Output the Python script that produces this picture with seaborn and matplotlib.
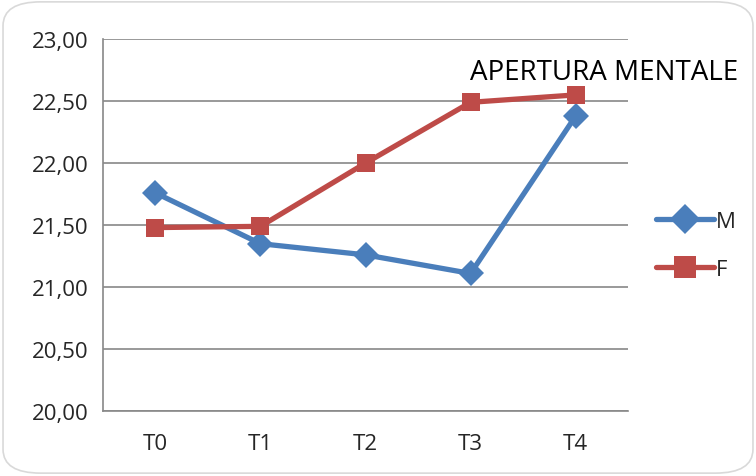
import pandas as pd
import matplotlib.pyplot as plt
import seaborn as sns
from matplotlib.patches import FancyBboxPatch

# dati
tempi = ["T0", "T1", "T2", "T3", "T4"]
valori_m = [21.76, 21.35, 21.26, 21.11, 22.38]
valori_f = [21.48, 21.49, 22.00, 22.49, 22.55]

df = pd.DataFrame({
    "tempo": tempi * 2,
    "pos": list(range(len(tempi))) * 2,
    "valore": valori_m + valori_f,
    "sesso": ["M"] * len(tempi) + ["F"] * len(tempi),
})

sns.set_style("white")
plt.rcParams["font.family"] = ["Open Sans", "DejaVu Sans"]

fig = plt.figure(figsize=(7.56, 4.77), dpi=100)
ax = fig.add_axes([0.136, 0.136, 0.695, 0.78])

# bordo arrotondato del riquadro
fig.patches.append(FancyBboxPatch((0.004, 0.006), 0.992, 0.988,
                                  boxstyle="round,pad=0,rounding_size=0.05",
                                  transform=fig.transFigure, facecolor="white",
                                  edgecolor="#d9d9d9", linewidth=1.2, zorder=-10))

sns.lineplot(data=df, x="pos", y="valore", hue="sesso", style="sesso",
             palette={"M": "#4A7EBB", "F": "#BE4B48"},
             markers={"M": "D", "F": "s"}, dashes=False,
             markersize=13, linewidth=3.8, markeredgewidth=0, ax=ax)

ax.set_xlim(-0.5, len(tempi) - 0.5)
ax.set_ylim(20, 23)
ax.set_yticks([20, 20.5, 21, 21.5, 22, 22.5, 23])
ax.set_yticklabels([f"{v:.2f}".replace(".", ",") for v in ax.get_yticks()], fontsize=16)
ax.set_xticks(range(len(tempi)))
ax.set_xticklabels(tempi, fontsize=16)
ax.set_xticks([i - 0.5 for i in range(len(tempi) + 1)], minor=True)
ax.tick_params(axis="x", which="major", length=0, pad=16)
ax.tick_params(axis="x", which="minor", length=6, width=1.2, color="#888888", direction="out")
ax.tick_params(axis="y", length=6, width=1.2, color="#888888", direction="out", pad=4)
ax.grid(axis="y", color="#888888", linewidth=1.2)
for s in ["top", "right"]:
    ax.spines[s].set_visible(False)
for s in ["left", "bottom"]:
    ax.spines[s].set_color("#888888")
    ax.spines[s].set_linewidth(1.2)
ax.set_xlabel("")
ax.set_ylabel("")

fig.text(0.622, 0.832, "APERTURA MENTALE", fontsize=20, color="black", va="baseline")

leg = ax.legend(loc="center left", bbox_to_anchor=(1.015, 0.445), frameon=False,
                fontsize=16, handlelength=2.6, handletextpad=0.1, labelspacing=1.2,
                markerscale=1.2)

fig.savefig("out.png", dpi=100)
